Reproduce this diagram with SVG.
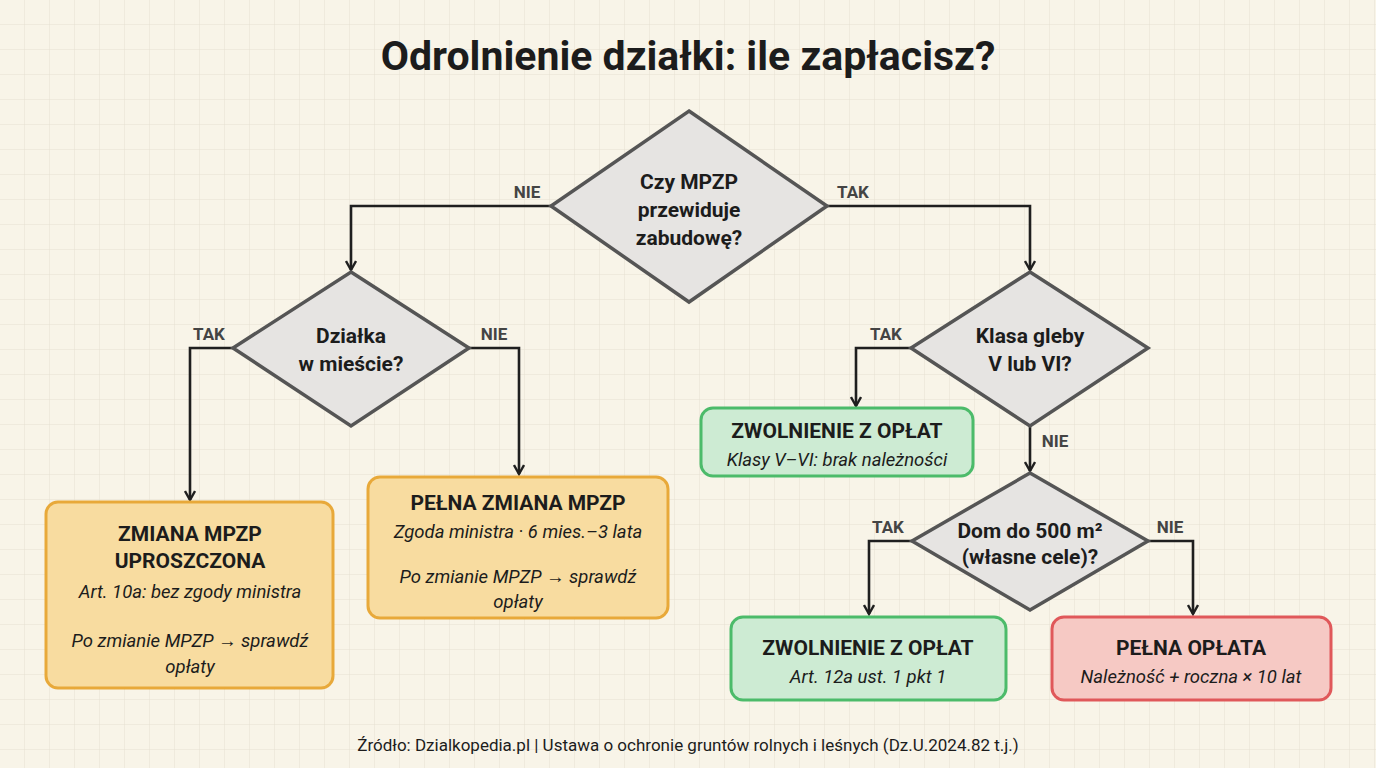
<svg xmlns="http://www.w3.org/2000/svg" width="1376" height="768" viewBox="0 0 1376 768">
<defs>
<pattern id="grid" width="25" height="25" patternUnits="userSpaceOnUse"><path d="M25 0V25H0" fill="none" stroke="#e6e0d2" stroke-width="1"/></pattern>
<marker id="ar" viewBox="0 0 12 12" refX="10" refY="6" markerWidth="12" markerHeight="12" markerUnits="userSpaceOnUse" orient="auto"><path d="M1 1L10 6L1 11" fill="none" stroke="#1f1f1f" stroke-width="2.4"/></marker>
</defs>
<style>
text{font-family:Roboto,"Liberation Sans",sans-serif;fill:#1c1c1c;text-anchor:middle}
.d{fill:#e6e4e2;stroke:#555;stroke-width:3.5}
.q{font-size:21px;font-weight:bold}
.h{font-size:21px;font-weight:bold}
.s{font-size:18.5px;font-style:italic}
.l{font-size:17px;font-weight:bold;fill:#444}
.o{fill:#f8dca0;stroke:#e8a93a;stroke-width:3}
.g{fill:#cdebd3;stroke:#4cbb6a;stroke-width:3}
.r{fill:#f6c9c4;stroke:#e0585a;stroke-width:3}
.c{fill:none;stroke:#1f1f1f;stroke-width:2.6;marker-end:url(#ar)}
</style>
<rect width="1376" height="768" fill="#f8f4e8"/>
<rect width="1376" height="768" fill="url(#grid)"/>
<text x="688" y="70" font-size="41" font-weight="bold">Odrolnienie działki: ile zapłacisz?</text>
<g id="connectors">
<path class="c" d="M551 206H351V270"/>
<path class="c" d="M827 206H1030V270"/>
<path class="c" d="M233 348H190V500"/>
<path class="c" d="M469 348H519V474"/>
<path class="c" d="M911 348H856V406"/>
<path class="c" d="M1030 426V471"/>
<path class="c" d="M912 541H869V614"/>
<path class="c" d="M1148 541H1193V614"/>
<text class="l" x="527" y="198">NIE</text>
<text class="l" x="853" y="198">TAK</text>
<text class="l" x="209" y="340">TAK</text>
<text class="l" x="494" y="340">NIE</text>
<text class="l" x="886" y="340">TAK</text>
<text class="l" x="1055" y="447">NIE</text>
<text class="l" x="888" y="533">TAK</text>
<text class="l" x="1170" y="533">NIE</text>
</g>
<g id="d1"><path class="d" d="M689 111L827 206L689 302L551 206Z"/>
<text class="q" x="689" y="189">Czy MPZP</text><text class="q" x="689" y="217">przewiduje</text><text class="q" x="689" y="245">zabudowę?</text></g>
<g id="d2"><path class="d" d="M351 272L469 348L351 426L233 348Z"/>
<text class="q" x="351" y="343">Działka</text><text class="q" x="351" y="371">w mieście?</text></g>
<g id="d3"><path class="d" d="M1030 272L1148 348L1030 426L911 348Z"/>
<text class="q" x="1030" y="343">Klasa gleby</text><text class="q" x="1030" y="371">V lub VI?</text></g>
<g id="d4"><path class="d" d="M1030 473L1148 541L1030 610L912 541Z"/>
<text class="q" x="1030" y="538" font-size="19">Dom do 500 m²</text><text class="q" x="1030" y="564" font-size="19">(własne cele)?</text></g>
<g id="b1"><rect class="o" x="46" y="502" width="287" height="186" rx="12"/>
<text class="h" x="190" y="541">ZMIANA MPZP</text><text class="h" x="190" y="568">UPROSZCZONA</text>
<text class="s" x="190" y="598">Art. 10a: bez zgody ministra</text>
<text class="s" x="190" y="647">Po zmianie MPZP → sprawdź</text><text class="s" x="190" y="673">opłaty</text></g>
<g id="b2"><rect class="o" x="368" y="477" width="300" height="141" rx="12"/>
<text class="h" x="518" y="510">PEŁNA ZMIANA MPZP</text>
<text class="s" x="518" y="538">Zgoda ministra · 6 mies.–3 lata</text>
<text class="s" x="518" y="583">Po zmianie MPZP → sprawdź</text><text class="s" x="518" y="608">opłaty</text></g>
<g id="b3"><rect class="g" x="701" y="408" width="272" height="68" rx="12"/>
<text class="h" x="837" y="438">ZWOLNIENIE Z OPŁAT</text>
<text class="s" x="837" y="466">Klasy V–VI: brak należności</text></g>
<g id="b4"><rect class="g" x="731" y="617" width="275" height="83" rx="12"/>
<text class="h" x="868" y="655">ZWOLNIENIE Z OPŁAT</text>
<text class="s" x="868" y="683">Art. 12a ust. 1 pkt 1</text></g>
<g id="b5"><rect class="r" x="1052" y="617" width="279" height="83" rx="12"/>
<text class="h" x="1191" y="655">PEŁNA OPŁATA</text>
<text class="s" x="1191" y="683">Należność + roczna × 10 lat</text></g>
<text x="688" y="751" font-size="17">Źródło: Dzialkopedia.pl | Ustawa o ochronie gruntów rolnych i leśnych (Dz.U.2024.82 t.j.)</text>
</svg>
